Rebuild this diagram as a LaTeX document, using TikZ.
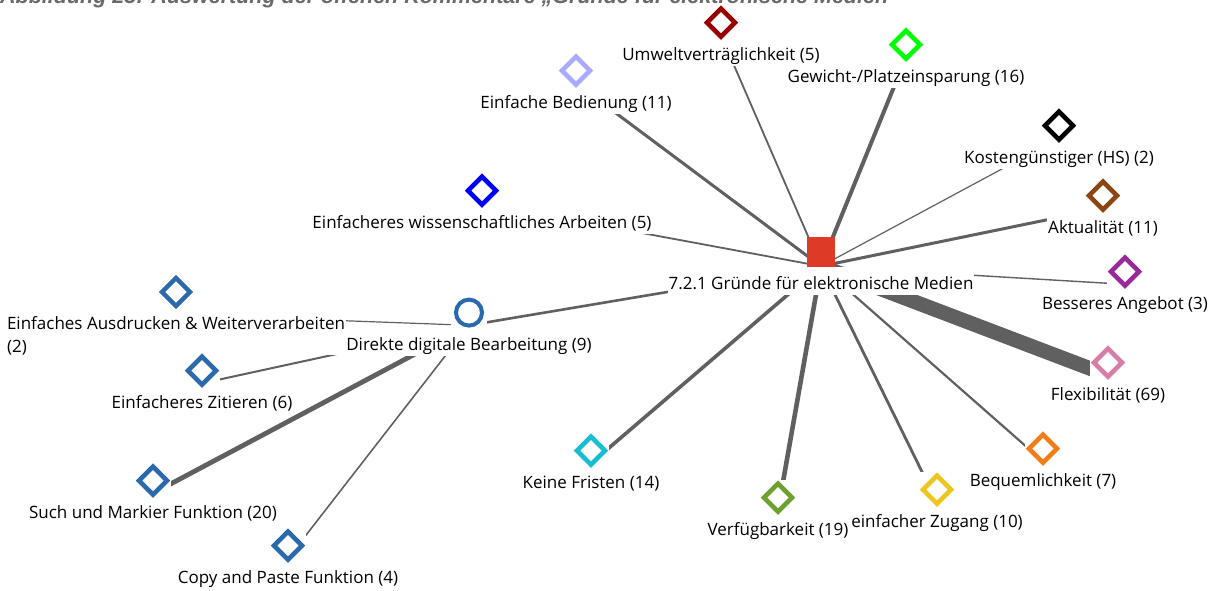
\documentclass[tikz,border=0pt]{standalone}
\usepackage{fontspec}
\setmainfont{Open Sans}
\newfontfamily\capfont{Liberation Sans}
\usetikzlibrary{positioning,fit,backgrounds}

\definecolor{linegray}{RGB}{96,96,96}
\definecolor{capgray}{RGB}{105,105,105}
\definecolor{hubred}{RGB}{221,59,39}
\definecolor{codeblue}{RGB}{41,105,172}
\definecolor{cUmwelt}{RGB}{153,0,0}
\definecolor{cGewicht}{RGB}{0,255,0}
\definecolor{cBedien}{RGB}{170,170,255}
\definecolor{cAktuell}{RGB}{139,69,19}
\definecolor{cWissen}{RGB}{0,0,255}
\definecolor{cAngebot}{RGB}{153,40,153}
\definecolor{cFlex}{RGB}{214,125,168}
\definecolor{cBequem}{RGB}{240,125,26}
\definecolor{cZugang}{RGB}{238,196,30}
\definecolor{cVerfueg}{RGB}{110,160,45}
\definecolor{cFristen}{RGB}{23,190,207}

\begin{document}
\begin{tikzpicture}[x=1pt, y=-1pt,
  font=\fontsize{17}{20}\selectfont,
  lbl/.style={fill=white, anchor=base, inner xsep=1pt, inner ysep=0pt, text height=23pt, text depth=6pt},
  markbox/.style={rectangle, fill=white, inner sep=0pt, minimum size=36pt},
  dia/.style={markbox, path picture={\draw[#1, line width=4.5pt, line join=miter]
      ([yshift=14pt]path picture bounding box.center) -- ([xshift=14pt]path picture bounding box.center)
      -- ([yshift=-14pt]path picture bounding box.center) -- ([xshift=-14pt]path picture bounding box.center) -- cycle;}},
  ring/.style={markbox, path picture={\draw[#1, line width=4pt] (path picture bounding box.center) circle[radius=13pt];}},
  hubsq/.style={rectangle, fill=hubred, inner sep=0pt, minimum width=28pt, minimum height=30pt},
  grp/.style={inner sep=0pt},
  link/.style={draw=linegray, line width=0.2pt*#1+0.8pt}
]
\useasboundingbox (0,0) rectangle (1217,590);

% --- caption (cut at the top edge) ---
\begin{scope}
  \clip (0,0) rectangle (1217,590);
  \node[anchor=base west, inner sep=0pt, text=capgray,
        font=\capfont\bfseries\itshape\fontsize{21.5}{24}\selectfont] (caption) at (0,3.5)
    {Abbildung 25: Auswertung der offenen Kommentare „Gründe für elektronische Medien“};
\end{scope}

% --- hub ---
\node[hubsq] (hub) at (821,252) {};
\node[lbl, anchor=north, text height=22pt, below=0pt of hub] (hub-l) {7.2.1 Gründe für elektronische Medien};

% --- codes round the hub (label first, marker on top of it) ---
\node[lbl] (gewicht-l) at (906,82) {Gewicht-/Platzeinsparung (16)};
\node[dia=cGewicht, above=-4pt of gewicht-l] (gewicht) {};
\node[lbl] (umwelt-l) at (721,60) {Umweltverträglichkeit (5)};
\node[dia=cUmwelt, above=-4pt of umwelt-l] (umwelt) {};
\node[lbl] (bedien-l) at (576,108) {Einfache Bedienung (11)};
\node[dia=cBedien, above=-4pt of bedien-l] (bedien) {};
\node[lbl] (kosten-l) at (1059,163) {Kostengünstiger (HS) (2)};
\node[dia=black, above=-4pt of kosten-l] (kosten) {};
\node[lbl] (aktuell-l) at (1103,233) {Aktualität (11)};
\node[dia=cAktuell, above=-4pt of aktuell-l] (aktuell) {};
\node[lbl] (wissen-l) at (482,228) {Einfacheres wissenschaftliches Arbeiten (5)};
\node[dia=cWissen, above=-4pt of wissen-l] (wissen) {};
\node[lbl] (angebot-l) at (1125,309) {Besseres Angebot (3)};
\node[dia=cAngebot, above=-4pt of angebot-l] (angebot) {};
\node[lbl] (flex-l) at (1108,400) {Flexibilität (69)};
\node[dia=cFlex, above=-4pt of flex-l] (flex) {};
\node[lbl] (bequem-l) at (1043,486) {Bequemlichkeit (7)};
\node[dia=cBequem, above=-4pt of bequem-l] (bequem) {};
\node[lbl] (zugang-l) at (937,527) {einfacher Zugang (10)};
\node[dia=cZugang, above=-4pt of zugang-l] (zugang) {};
\node[lbl] (verfueg-l) at (778,535) {Verfügbarkeit (19)};
\node[dia=cVerfueg, above=-4pt of verfueg-l] (verfueg) {};
\node[lbl] (fristen-l) at (591,488) {Keine Fristen (14)};
\node[dia=cFristen, above=-4pt of fristen-l] (fristen) {};

% --- sub-codes of "Direkte digitale Bearbeitung" ---
\node[lbl] (direkt-l) at (469,350) {Direkte digitale Bearbeitung (9)};
\node[ring=codeblue, above=-4pt of direkt-l] (direkt) {};
\node[dia=codeblue] (druck) at (176,292) {};
\node[fill=white, inner xsep=1pt, inner ysep=0pt, align=left, font=\fontsize{17}{23}\selectfont,
      below=0pt of druck] (druck-l)
  {\rule{0pt}{19pt}Einfaches Ausdrucken \& Weiterverarbeiten\\(2)};
\node[lbl] (zitat-l) at (202,408) {Einfacheres Zitieren (6)};
\node[dia=codeblue, above=-4pt of zitat-l] (zitat) {};
\node[lbl] (suche-l) at (153,518) {Such und Markier Funktion (20)};
\node[dia=codeblue, above=-4pt of suche-l] (suche) {};
\node[lbl] (copy-l) at (288,583) {Copy and Paste Funktion (4)};
\node[dia=codeblue, above=-4pt of copy-l] (copy) {};

% --- groups (marker + label) ---
\node[grp, fit=(hub)(hub-l)] (hub-g) {};
\node[grp, fit=(umwelt)(umwelt-l)] (umwelt-g) {};
\node[grp, fit=(gewicht)(gewicht-l)] (gewicht-g) {};
\node[grp, fit=(bedien)(bedien-l)] (bedien-g) {};
\node[grp, fit=(kosten)(kosten-l)] (kosten-g) {};
\node[grp, fit=(aktuell)(aktuell-l)] (aktuell-g) {};
\node[grp, fit=(wissen)(wissen-l)] (wissen-g) {};
\node[grp, fit=(angebot)(angebot-l)] (angebot-g) {};
\node[grp, fit=(flex)(flex-l)] (flex-g) {};
\node[grp, fit=(bequem)(bequem-l)] (bequem-g) {};
\node[grp, fit=(zugang)(zugang-l)] (zugang-g) {};
\node[grp, fit=(verfueg)(verfueg-l)] (verfueg-g) {};
\node[grp, fit=(fristen)(fristen-l)] (fristen-g) {};
\node[grp, fit=(direkt)(direkt-l)] (direkt-g) {};
\node[grp, fit=(druck)(druck-l)] (druck-g) {};
\node[grp, fit=(zitat)(zitat-l)] (zitat-g) {};
\node[grp, fit=(suche)(suche-l)] (suche-g) {};
\node[grp, fit=(copy)(copy-l)] (copy-g) {};

% --- links, width after the number of comments ---
\begin{scope}[on background layer]
  \draw[link=5]  (hub-g.center) -- (umwelt-g.center);
  \draw[link=16] (hub-g.center) -- (gewicht-g.center);
  \draw[link=11] (hub-g.center) -- (bedien-g.center);
  \draw[link=2]  (hub-g.center) -- (kosten-g.center);
  \draw[link=11] (hub-g.center) -- (aktuell-g.center);
  \draw[link=5]  (hub-g.center) -- (wissen-g.center);
  \draw[link=3]  (hub-g.center) -- (angebot-g.center);
  \draw[link=69] (hub-g.center) -- (flex-g.center);
  \draw[link=7]  (hub-g.center) -- (bequem-g.center);
  \draw[link=10] (hub-g.center) -- (zugang-g.center);
  \draw[link=19] (hub-g.center) -- (verfueg-g.center);
  \draw[link=14] (hub-g.center) -- (fristen-g.center);
  \draw[link=9]  (hub-g.center) -- (direkt-g.center);
  \draw[link=2]  (direkt-g.center) -- (druck-g.center);
  \draw[link=6]  (direkt-g.center) -- (zitat-g.center);
  \draw[link=20] (direkt-g.center) -- (suche-g.center);
  \draw[link=4]  (direkt-g.center) -- (copy-g.center);
\end{scope}

\end{tikzpicture}
\end{document}
